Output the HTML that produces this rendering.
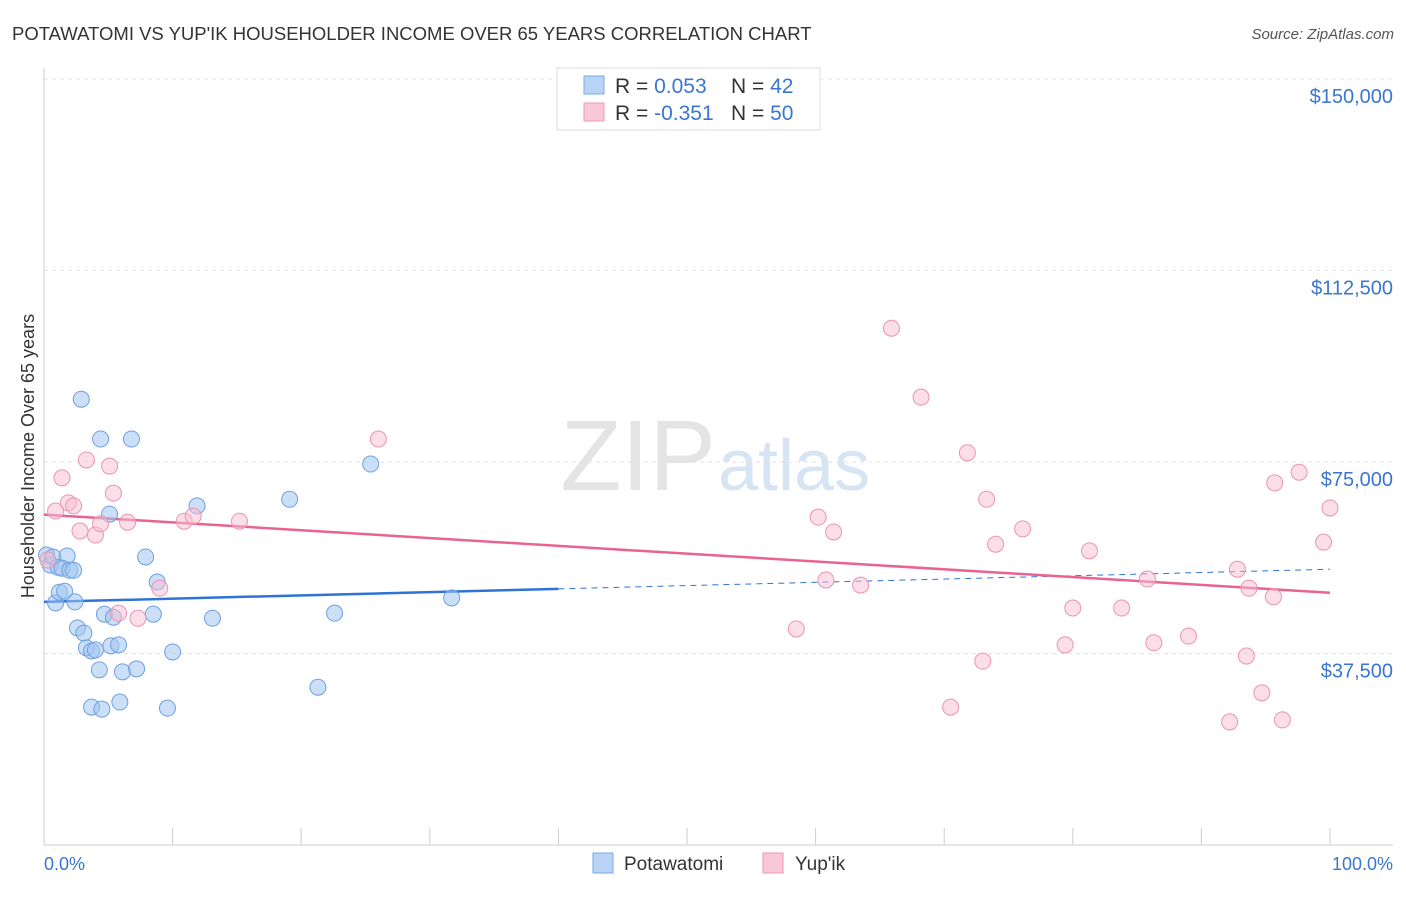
<!DOCTYPE html>
<html><head><meta charset="utf-8"><style>
body{margin:0;background:#fff;font-family:"Liberation Sans",sans-serif}
svg text{font-family:"Liberation Sans",sans-serif}
</style></head><body>
<svg id="chart" width="1406" height="892">
<text x="12" y="40" font-size="18.5" fill="#333">POTAWATOMI VS YUP'IK HOUSEHOLDER INCOME OVER 65 YEARS CORRELATION CHART</text>
<text x="1394" y="39" font-size="15" fill="#555" text-anchor="end" font-style="italic">Source: ZipAtlas.com</text>
<text x="716" y="490" font-size="100" fill="#e4e4e4" text-anchor="end" font-family="Liberation Serif">ZIP</text>
<text x="718" y="490" font-size="72" fill="#d6e4f4">atlas</text>
<g id="grid"></g><g id="axes"></g><g id="trend"></g><g id="points"></g>
<text transform="translate(34,456) rotate(-90)" font-size="18" fill="#333" text-anchor="middle">Householder Income Over 65 years</text>
<text x="44" y="870" font-size="18" fill="#3a76d0">0.0%</text>
<text x="1393" y="870" font-size="18" fill="#3a76d0" text-anchor="end">100.0%</text>
<g>
<rect x="557" y="68" width="263" height="62" fill="#fff" stroke="#ddd"/>
<rect x="584" y="76" width="20" height="18" fill="#b8d3f5" stroke="#7aa9e6"/>
<rect x="584" y="103" width="20" height="18" fill="#f9c8d8" stroke="#ef9ab5"/>
<text x="615" y="93" font-size="21" fill="#333">R = <tspan fill="#3a76d0">0.053</tspan><tspan x="731">N = </tspan><tspan fill="#3a76d0">42</tspan></text>
<text x="615" y="120" font-size="21" fill="#333">R = <tspan fill="#3a76d0">-0.351</tspan><tspan x="731">N = </tspan><tspan fill="#3a76d0">50</tspan></text>
</g>
<g>
<rect x="593" y="853" width="20" height="20" fill="#b8d3f5" stroke="#7aa9e6"/>
<text x="624" y="870" font-size="19" fill="#333">Potawatomi</text>
<rect x="763" y="853" width="20" height="20" fill="#f9c8d8" stroke="#ef9ab5"/>
<text x="795" y="870" font-size="19" fill="#333">Yup'ik</text>
</g>
</svg>
<script>
const yTicks=[37500,75000,112500,150000];
const yTickLabels=["$37,500","$75,000","$112,500","$150,000"];
const blueX=[0.2,0.5,0.7,1.8,1.1,1.4,2.0,2.3,0.9,1.2,1.6,2.4,2.9,4.4,6.8,5.1,7.9,8.8,11.9,19.1,25.4,31.7,22.6,13.1,8.5,4.7,5.4,2.6,3.1,3.3,3.7,4.0,5.2,5.8,4.3,6.1,7.2,10.0,3.7,4.5,5.9,9.6,21.3];
const blueY=[56800,54800,56400,56600,54400,54200,53800,53800,47400,49500,49700,47600,87300,79500,79500,64800,56400,51500,66400,67700,74600,48400,45400,44400,45200,45200,44600,42500,41500,38600,38000,38200,39000,39200,34300,33900,34500,37800,27000,26600,28000,26800,30900];
const pinkX=[0.3,0.9,1.4,1.9,2.3,2.8,3.3,4.0,4.4,5.1,5.4,6.5,5.8,7.3,9.0,10.9,11.6,15.2,26.0,65.9,68.2,71.8,73.3,74.0,76.1,60.2,61.4,60.8,63.5,58.5,70.5,73.0,79.4,80.0,81.3,83.8,85.8,86.3,89.0,92.2,92.8,93.5,93.7,94.7,95.6,95.7,96.3,97.6,99.5,100];
const pinkY=[55800,65400,71900,67000,66400,61500,75400,60700,62900,74200,68900,63200,45400,44400,50300,63400,64400,63400,79500,101200,87700,76800,67700,58900,61900,64200,61300,51900,50900,42300,27000,36000,39200,46400,57600,46400,52100,39600,40900,24100,54000,37000,50300,29800,48600,70900,24500,73000,59300,66000];
const blueTrend=[47600,54000];
const pinkTrend=[64700,49400];
const NS="http://www.w3.org/2000/svg";
const X0=44,X1=1330,Y0=845,PX=191.5/37500;
const sx=v=>X0+(X1-X0)*v/100, sy=v=>Y0-v*PX;
function mk(tag,attrs,parent){const e=document.createElementNS(NS,tag);for(const k in attrs)e.setAttribute(k,attrs[k]);document.getElementById(parent).appendChild(e);return e;}
yTicks.forEach((t,i)=>{
 const l=mk('line',{x1:44,x2:1393,y1:sy(t),y2:sy(t),stroke:'#e2e2e2','stroke-dasharray':'4,4'},'grid');
 
 
 const tx=mk('text',{x:1393,y:sy(t)+24,'font-size':20,fill:'#3a76d0','text-anchor':'end'},'grid');
 tx.textContent=yTickLabels[i];
 
 
});
const ax=mk('line',{x1:44,x2:1393,y1:845,y2:845,stroke:'#ccc'},'axes');


const ay=mk('line',{x1:44,x2:44,y1:68,y2:845,stroke:'#ccc'},'axes');


for(let i=0;i<=10;i++){
 const t=mk('line',{x1:sx(i*10),x2:sx(i*10),y1:828,y2:845,stroke:'#ccc'},'axes');
 
 
}
const bAt=x=>blueTrend[0]+(blueTrend[1]-blueTrend[0])*x/100;
let l1=mk('line',{x1:sx(0),y1:sy(bAt(0)),x2:sx(40),y2:sy(bAt(40)),stroke:'#2f73d6','stroke-width':2.5},'trend');


let l2=mk('line',{x1:sx(40),y1:sy(bAt(40)),x2:sx(100),y2:sy(bAt(100)),stroke:'#2f73d6','stroke-width':1,'stroke-dasharray':'6,5'},'trend');


let l3=mk('line',{x1:sx(0),y1:sy(pinkTrend[0]),x2:sx(100),y2:sy(pinkTrend[1]),stroke:'#e8648f','stroke-width':2.5},'trend');


blueX.forEach((x,i)=>{
 const c=mk('circle',{cx:sx(x),cy:sy(blueY[i]),r:8,fill:'rgba(160,196,240,0.55)',stroke:'#6fa0e0','stroke-width':1},'points');
 
 
});
pinkX.forEach((x,i)=>{
 const c=mk('circle',{cx:sx(x),cy:sy(pinkY[i]),r:8,fill:'rgba(248,190,208,0.5)',stroke:'#ec93b0','stroke-width':1},'points');
 
 
});
</script>
</body></html>
